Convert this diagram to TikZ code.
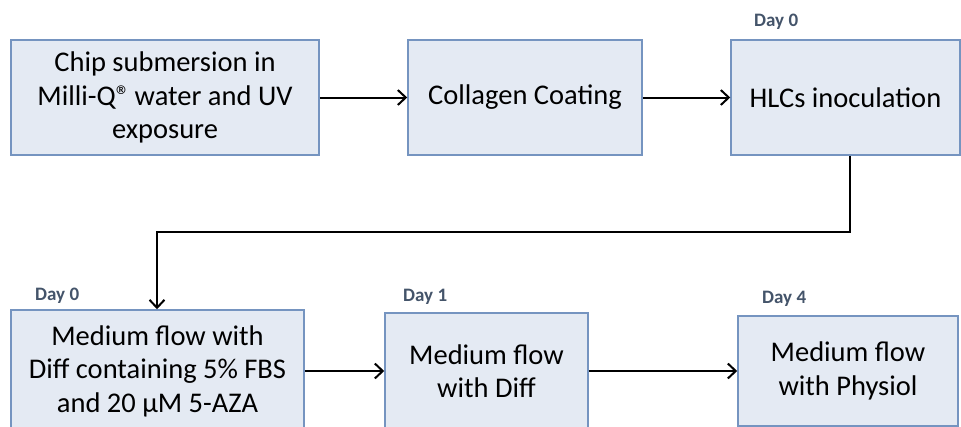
\documentclass[tikz,border=0pt]{standalone}
\usepackage{fontspec}
\setmainfont{Carlito}
\usetikzlibrary{arrows.meta}
\definecolor{boxfill}{HTML}{E4EAF3}
\definecolor{boxdraw}{HTML}{7594C0}
\definecolor{daycol}{HTML}{44546A}
\begin{document}
\begin{tikzpicture}[x=1pt,y=-1pt,
  stepbox/.style={draw=boxdraw,fill=boxfill,line width=1.5pt,align=center,
    font=\fontsize{28.5}{33.5}\selectfont,inner sep=0pt},
  daylabel/.style={text=daycol,font=\fontsize{19}{21}\selectfont\bfseries,inner sep=0pt,anchor=west},
  conn/.style={line width=2pt,-{Straight Barb[length=8pt,width=15pt,line width=2pt]}}]
\useasboundingbox (0,0) rectangle (961,426);
\begin{scope}
\clip (0,0) rectangle (961,426);
\node[stepbox,minimum width=308pt,minimum height=115pt] (b1) at (165,97.5) {Chip submersion in\\Milli-Q®\kern-2pt{} water and UV\\exposure};
\node[stepbox,minimum width=234pt,minimum height=115pt] (b2) at (525,97.5) {Collagen Coating};
\node[stepbox,minimum width=229pt,minimum height=115pt] (b3) at (845.5,97.5) {HLCs inoculation};
\node[stepbox,minimum width=293pt,minimum height=122pt] (b4) at (157.5,371) {Medium flow with\\Diff containing 5\% FBS\\and 20 µM 5-AZA};
\node[stepbox,minimum width=203pt,minimum height=116pt] (b5) at (486.5,371) {Medium flow\\with Diff};
\node[stepbox,minimum width=220pt,minimum height=110pt] (b6) at (848,371) {Medium flow\\with Physiol};
\end{scope}
\node[daylabel] (d0a) at (754,22) {Day 0};
\node[daylabel] (d0b) at (35,296) {Day 0};
\node[daylabel] (d1) at (403,297) {Day 1};
\node[daylabel] (d4) at (762,299) {Day 4};
\coordinate (c1) at (850,232);
\coordinate (c2) at (157,232);
\draw[conn] (b1.east) -- (b2.west);
\draw[conn] (b2.east) -- (b3.west);
\draw[conn] (b3.south -| c1) -- (c1) -- (c2) -- (b4.north -| c2);
\draw[conn] (b4.east) -- (b5.west);
\draw[conn] (b5.east) -- (b6.west);
\end{tikzpicture}
\end{document}
